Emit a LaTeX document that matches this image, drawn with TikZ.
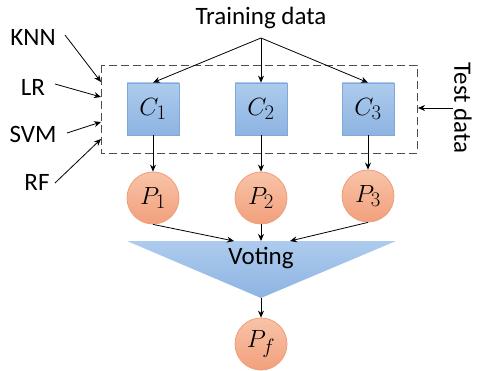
\documentclass[tikz,border=0pt]{standalone}
\usepackage{fontspec}
\setmainfont{Carlito}
\usetikzlibrary{arrows.meta,shapes.geometric}
\definecolor{bxtop}{HTML}{ADCBED}
\definecolor{bxbot}{HTML}{8DB4E2}
\definecolor{bxline}{HTML}{7FA9DC}
\definecolor{cctop}{HTML}{F8C3A8}
\definecolor{ccbot}{HTML}{F2A07C}
\definecolor{ccline}{HTML}{EE9E78}
\tikzset{
  clsbox/.style={draw=bxline,line width=0.8pt,top color=bxtop,bottom color=bxbot,minimum size=52pt,inner sep=0pt,font=\fontsize{29}{29}\selectfont},
  predc/.style={circle,draw=ccline,line width=0.8pt,top color=cctop,bottom color=ccbot,minimum size=52pt,inner sep=0pt,font=\fontsize{29}{29}\selectfont},
  lbl/.style={font=\fontsize{25}{27}\selectfont,inner sep=0pt},
  arr/.style={-{Stealth[length=7pt,width=6pt]},line width=0.8pt},
}
\begin{document}
\begin{tikzpicture}[x=1pt,y=-1pt]
\useasboundingbox (0,0) rectangle (478,371);
% dashed box
\draw[line width=0.9pt,draw=black!70,dash pattern=on 8pt off 4pt] (101,65) rectangle (417,153);
% training data
\node[lbl] (train) at (261,18) {Training data};
\coordinate (apex) at (261,38);
% classifiers
\node[clsbox] (c1) at (153,109) {$C_1$};
\node[clsbox] (c2) at (261,109) {$C_2$};
\node[clsbox] (c3) at (368,109) {$C_3$};
\draw[arr] (apex) -- (c1.north);
\draw[arr] (apex) -- (c2.north);
\draw[arr] (apex) -- (c3.north);
% predictions
\node[predc] (p1) at (153,198) {$P_1$};
\node[predc] (p2) at (261,198) {$P_2$};
\node[predc] (p3) at (368,196) {$P_3$};
\draw[arr] (c1.south) -- (p1.north);
\draw[arr] (c2.south) -- (p2.north);
\draw[arr] (c3.south) -- (p3.north);
% voting
\coordinate (vl) at (127,241);
\coordinate (vr) at (396,241);
\coordinate (vb) at (261,298);
\shade[top color=bxtop,bottom color=bxbot] (vl) -- (vr) -- (vb) -- cycle;
\node[lbl] (vote) at (261,258) {Voting};
\coordinate (v1) at (234,241);
\coordinate (v2) at (261,241);
\coordinate (v3) at (290,241);
\draw[arr] (p1.south) -- (v1);
\draw[arr] (p2.south) -- (v2);
\draw[arr] (p3.south) -- (v3);
\node[predc] (pf) at (261,344) {$P_f$};
\draw[arr] (vb) -- (pf.north);
% left labels
\node[lbl] (knn) at (33,37) {KNN};
\node[lbl] (lr) at (33,87) {LR};
\node[lbl] (svm) at (33,134) {SVM};
\node[lbl] (rf) at (37,182) {RF};
\coordinate (kt) at (101,82);
\coordinate (lt) at (101,97);
\coordinate (st) at (101,122);
\coordinate (rt) at (101,139);
\draw[arr] (65,35) -- (kt);
\draw[arr] (55,84) -- (lt);
\draw[arr] (67,133) -- (st);
\draw[arr] (55,183) -- (rt);
% test data
\node[lbl,rotate=-90] (test) at (463,108) {Test data};
\coordinate (tt) at (418,108);
\draw[arr] (453,108) -- (tt);
\end{tikzpicture}
\end{document}
